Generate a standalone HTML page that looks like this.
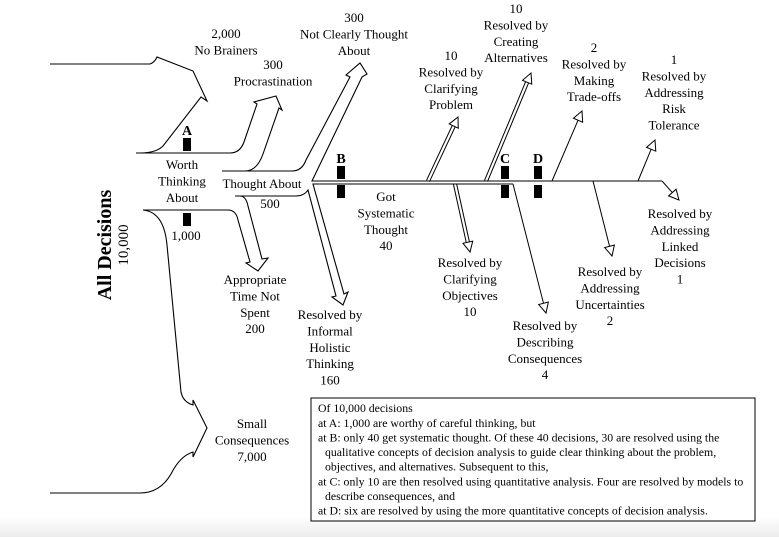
<!DOCTYPE html>
<html><head><meta charset="utf-8">
<style>
html,body{margin:0;padding:0;background:#fff;}
svg{display:block;}
text{font-family:"Liberation Serif",serif;font-size:13px;fill:#000;}
.box text{font-size:11.8px;}
</style></head>
<body>
<svg id="d" width="779" height="537" viewBox="0 0 779 537" xmlns="http://www.w3.org/2000/svg">
<defs><linearGradient id="g" x1="0" y1="0" x2="0" y2="1"><stop offset="0" stop-color="#fff"/><stop offset="1" stop-color="#ececec"/></linearGradient></defs>
<rect x="0" y="516" width="779" height="21" fill="url(#g)"/>
<g fill="none" stroke="#000" stroke-width="1.1">
<path d="M50,64 L150,64 Q155,62 157,57 L193,71 L207,101 L201,97 L163,146 Q156,153 140,153 L136,153"/>
<path d="M140,153 L230,153 Q240,153 244,142 L257,104 L254,102 L276,96 L282,110 L279,108 L263,154 Q257,171 245,171 L222,171"/>
<path d="M243,171 L292,171 Q302,171 306,160 L350,77 L346,75 L360,63 L367,74 L362,77 L312,181 L486,181"/>
<path d="M143,210 L228,210 Q236,210 238,220 L250,262 L246,263 L258,271 L268,258 L262,259 L248,206 Q246,196 240,196 L235,196"/>
<path d="M240,196 L296,196 Q304,196 308,190 L336,296 L332,297 L343,305 L348,292 L344,294 L313,184 L453,184"/>
<path d="M143,210 Q164,212 167,245 L181,392 Q183,402 193,405 L193,400 L207,428 L193,457 L193,452 Q180,456 171,474 Q160,493 140,493 L50,493"/>
</g>
<g id="branches"></g>
<g id="markers"></g>
<g id="labels" text-anchor="middle"></g>
<text transform="translate(111,245) rotate(-90)" text-anchor="middle" style="font-size:20px;font-weight:bold">All Decisions</text>
<text transform="translate(128,245) rotate(-90)" text-anchor="middle" style="font-size:15px">10,000</text>
<g class="box">
<rect x="311" y="398" width="444" height="123" fill="#fff" stroke="#000" stroke-width="1"/>
<text x="318" y="412">Of 10,000 decisions</text>
<text x="318" y="427">at A: 1,000 are worthy of careful thinking, but</text>
<text x="318" y="441.5">at B: only 40 get systematic thought.  Of these 40 decisions, 30 are resolved using the</text>
<text x="325" y="456">qualitative concepts of decision analysis to guide clear thinking about the problem,</text>
<text x="325" y="470.5">objectives, and alternatives.  Subsequent to this,</text>
<text x="318" y="485.5">at C: only 10 are then resolved using quantitative analysis. Four are resolved by models to</text>
<text x="325" y="500">describe consequences, and</text>
<text x="318" y="514.5">at D: six are resolved by using the more quantitative concepts of decision analysis.</text>
</g>
</svg>
<script>
// Branch data: names, counts, and style (double shaft = qualitative)
const branchNames=["clarifying-problem","creating-alternatives","clarifying-objectives","describing-consequences","making-trade-offs","addressing-uncertainties","addressing-risk-tolerance","addressing-linked-decisions"];
const branchCounts=[10,10,10,4,2,2,1,1];
const branchDouble=[true,true,true,false,false,false,false,false];
const branchGeom=[[428,181,458,117],[486,181,531,73],[455,184,470,252],[513,184,546,313],[552,181,582,111],[593,181,612,256],[638,181,655,140],[662,181,679,200]];
const NS="http://www.w3.org/2000/svg";
const bg=document.getElementById('branches');
branchGeom.forEach((g,i)=>{
  const [x0,y0,x1,y1]=g;const dx=x1-x0,dy=y1-y0,L=Math.hypot(dx,dy),ux=dx/L,uy=dy/L,nx=-uy,ny=ux;
  const hl=10,hw=5;const bx=x1-ux*hl,by=y1-uy*hl;
  const grp=document.createElementNS(NS,'g');
  
  
  let d='';
  if(branchDouble[i]){const o=1.6;d=`M${x0+nx*o},${y0+ny*o}L${bx+nx*o},${by+ny*o}M${x0-nx*o},${y0-ny*o}L${bx-nx*o},${by-ny*o}`;}
  else d=`M${x0},${y0}L${bx},${by}`;
  d+=`M${bx+nx*hw},${by+ny*hw}L${x1},${y1}L${bx-nx*hw},${by-ny*hw}Z`;
  const p=document.createElementNS(NS,'path');p.setAttribute('d',d);p.setAttribute('fill','#fff');p.setAttribute('stroke','#000');p.setAttribute('stroke-width','1');
  grp.appendChild(p);bg.appendChild(grp);
});
// main systematic lines
const ml=document.createElementNS(NS,'path');


ml.setAttribute('d','M453,184 L513,184 M486,181 L662,181');
ml.setAttribute('fill','none');ml.setAttribute('stroke','#000');ml.setAttribute('stroke-width','1.1');bg.appendChild(ml);
// markers
const markerLetters=["A","B","C","D"];
const markerX=[187,341,505,538];
const mg=document.getElementById('markers');
markerLetters.forEach((l,i)=>{
  const x=markerX[i];const tops=i==0?[138,213]:[166,185];
  tops.forEach((t,j)=>{const r=document.createElementNS(NS,'rect');
    
    
    r.setAttribute('x',x-4);r.setAttribute('y',t);r.setAttribute('width',8);r.setAttribute('height',13);mg.appendChild(r);});
  const tx=document.createElementNS(NS,'text');
  
  
  tx.setAttribute('x',x);tx.setAttribute('y',i==0?135:163);tx.setAttribute('text-anchor','middle');tx.setAttribute('style','font-weight:bold;font-size:14px');tx.textContent=l;mg.appendChild(tx);
});
// labels: [x, firstBaseline, lines...]
const labelNames=["no-brainers","procrastination","not-clearly-thought","clarifying-problem","creating-alternatives","making-trade-offs","risk-tolerance","worth-thinking","thought-about","thought-about-count","worth-count","got-systematic","clarifying-objectives","describing-consequences","uncertainties","linked-decisions","appropriate-time","informal-holistic","small-consequences"];
const labelX=[226,273,354,451,516,594,674,182,262,270,186,386,470,545,610,680,255,330,252];
const labelY=[38,69,22,60,13,52,64,169,188,208,240,201,267,330,276,218,284,319,428];
const labelLines=[["2,000","No Brainers"],["300","Procrastination"],["300","Not Clearly Thought","About"],["10","Resolved by","Clarifying","Problem"],["10","Resolved by","Creating","Alternatives"],["2","Resolved by","Making","Trade-offs"],["1","Resolved by","Addressing","Risk","Tolerance"],["Worth","Thinking","About"],["Thought About"],["500"],["1,000"],["Got","Systematic","Thought","40"],["Resolved by","Clarifying","Objectives","10"],["Resolved by","Describing","Consequences","4"],["Resolved by","Addressing","Uncertainties","2"],["Resolved by","Addressing","Linked","Decisions","1"],["Appropriate","Time Not","Spent","200"],["Resolved by","Informal","Holistic","Thinking","160"],["Small","Consequences","7,000"]];
const lg=document.getElementById('labels');
labelLines.forEach((ls,i)=>{
  const t=document.createElementNS(NS,'text');
  
  
  t.setAttribute('x',labelX[i]);t.setAttribute('y',labelY[i]);
  ls.forEach((s,k)=>{const sp=document.createElementNS(NS,'tspan');sp.setAttribute('x',labelX[i]);if(k)sp.setAttribute('dy','16.4');sp.textContent=s;t.appendChild(sp);});
  lg.appendChild(t);
});
</script>
</body></html>
